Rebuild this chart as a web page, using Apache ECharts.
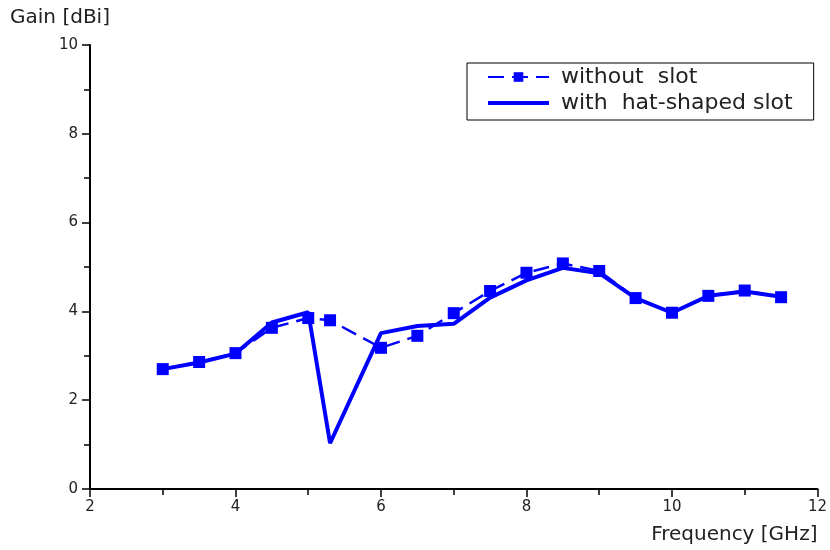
<!DOCTYPE html>
<html>
<head>
<meta charset="utf-8">
<script src="https://cdn.jsdelivr.net/npm/echarts@6/dist/echarts.min.js"></script>
<style>html,body{margin:0;padding:0;background:#fff;}#c{width:830px;height:550px;}</style>
</head>
<body>
<div id="c"></div>
<script>
const freq = [3, 3.5, 4, 4.5, 5, 5.3, 6, 6.5, 7, 7.5, 8, 8.5, 9, 9.5, 10, 10.5, 11, 11.5];
const withoutSlot = [2.70, 2.86, 3.06, 3.63, 3.85, 3.80, 3.18, 3.45, 3.96, 4.46, 4.87, 5.08, 4.91, 4.30, 3.97, 4.35, 4.47, 4.32];
const withHatSlot = [2.70, 2.85, 3.05, 3.75, 3.98, 1.03, 3.51, 3.67, 3.72, 4.31, 4.70, 4.98, 4.86, 4.30, 3.97, 4.35, 4.45, 4.33];
const xTicks = [2, 4, 6, 8, 10, 12];
const yTicks = [0, 2, 4, 6, 8, 10];
const seriesNames = ['without  slot', 'with  hat-shaped slot'];

const font = 'DejaVu Sans, Verdana, sans-serif';
const chart = echarts.init(document.getElementById('c'));
chart.setOption({
  animation: false,
  backgroundColor: '#fff',
  grid: { left: 90, right: 10, top: 45, bottom: 61 },
  legend: {
    orient: 'vertical',
    left: 467, top: 63,
    padding: [2, 21, 5, 19],
    itemGap: 2,
    itemWidth: 61, itemHeight: 12,
    borderColor: '#000', borderWidth: 1,
    textStyle: { fontFamily: font, fontSize: 22, lineHeight: 24, color: '#222', padding: [0, 0, 0, 7] },
    data: [
      { name: seriesNames[0] },
      { name: seriesNames[1], itemStyle: { opacity: 0 }, lineStyle: { width: 4 } }
    ]
  },
  xAxis: {
    type: 'value', min: xTicks[0], max: xTicks[xTicks.length - 1], interval: 2,
    name: 'Frequency [GHz]', nameLocation: 'end', nameGap: 0,
    nameTextStyle: { fontFamily: font, fontSize: 20, color: '#222', align: 'right', verticalAlign: 'top', padding: [36, 0, 0, 0] },
    axisLine: { onZero: false, lineStyle: { color: '#000', width: 2 } },
    axisTick: { show: true, length: 8, lineStyle: { color: '#000', width: 1.5 } },
    minorTick: { show: true, splitNumber: 2, length: 6, lineStyle: { color: '#000', width: 1.5 } },
    axisLabel: { fontFamily: font, fontSize: 15, color: '#222', margin: 11 },
    splitLine: { show: false }
  },
  yAxis: {
    type: 'value', min: yTicks[0], max: yTicks[yTicks.length - 1], interval: 2,
    name: 'Gain [dBi]', nameLocation: 'end', nameGap: 17,
    nameTextStyle: { fontFamily: font, fontSize: 20, color: '#222', align: 'center', padding: [0, 60, 0, 0] },
    axisLine: { show: true, onZero: false, lineStyle: { color: '#000', width: 2 } },
    axisTick: { show: true, length: 8, lineStyle: { color: '#000', width: 1.5 } },
    minorTick: { show: true, splitNumber: 2, length: 6, lineStyle: { color: '#000', width: 1.5 } },
    axisLabel: { fontFamily: font, fontSize: 15, color: '#222', margin: 12 },
    splitLine: { show: false }
  },
  series: [
    {
      name: seriesNames[0], type: 'line',
      data: freq.map((f, i) => [f, withoutSlot[i]]),
      symbol: 'rect', symbolSize: 12,
      itemStyle: { color: '#0000ff' },
      lineStyle: { color: '#0000ff', width: 2.5, type: [16, 8] },
      z: 3
    },
    {
      name: seriesNames[1], type: 'line',
      data: freq.map((f, i) => [f, withHatSlot[i]]),
      symbol: 'none', showSymbol: false,
      itemStyle: { color: '#0000ff' },
      lineStyle: { color: '#0000ff', width: 4 },
      z: 2
    }
  ]
});
</script>
</body>
</html>
